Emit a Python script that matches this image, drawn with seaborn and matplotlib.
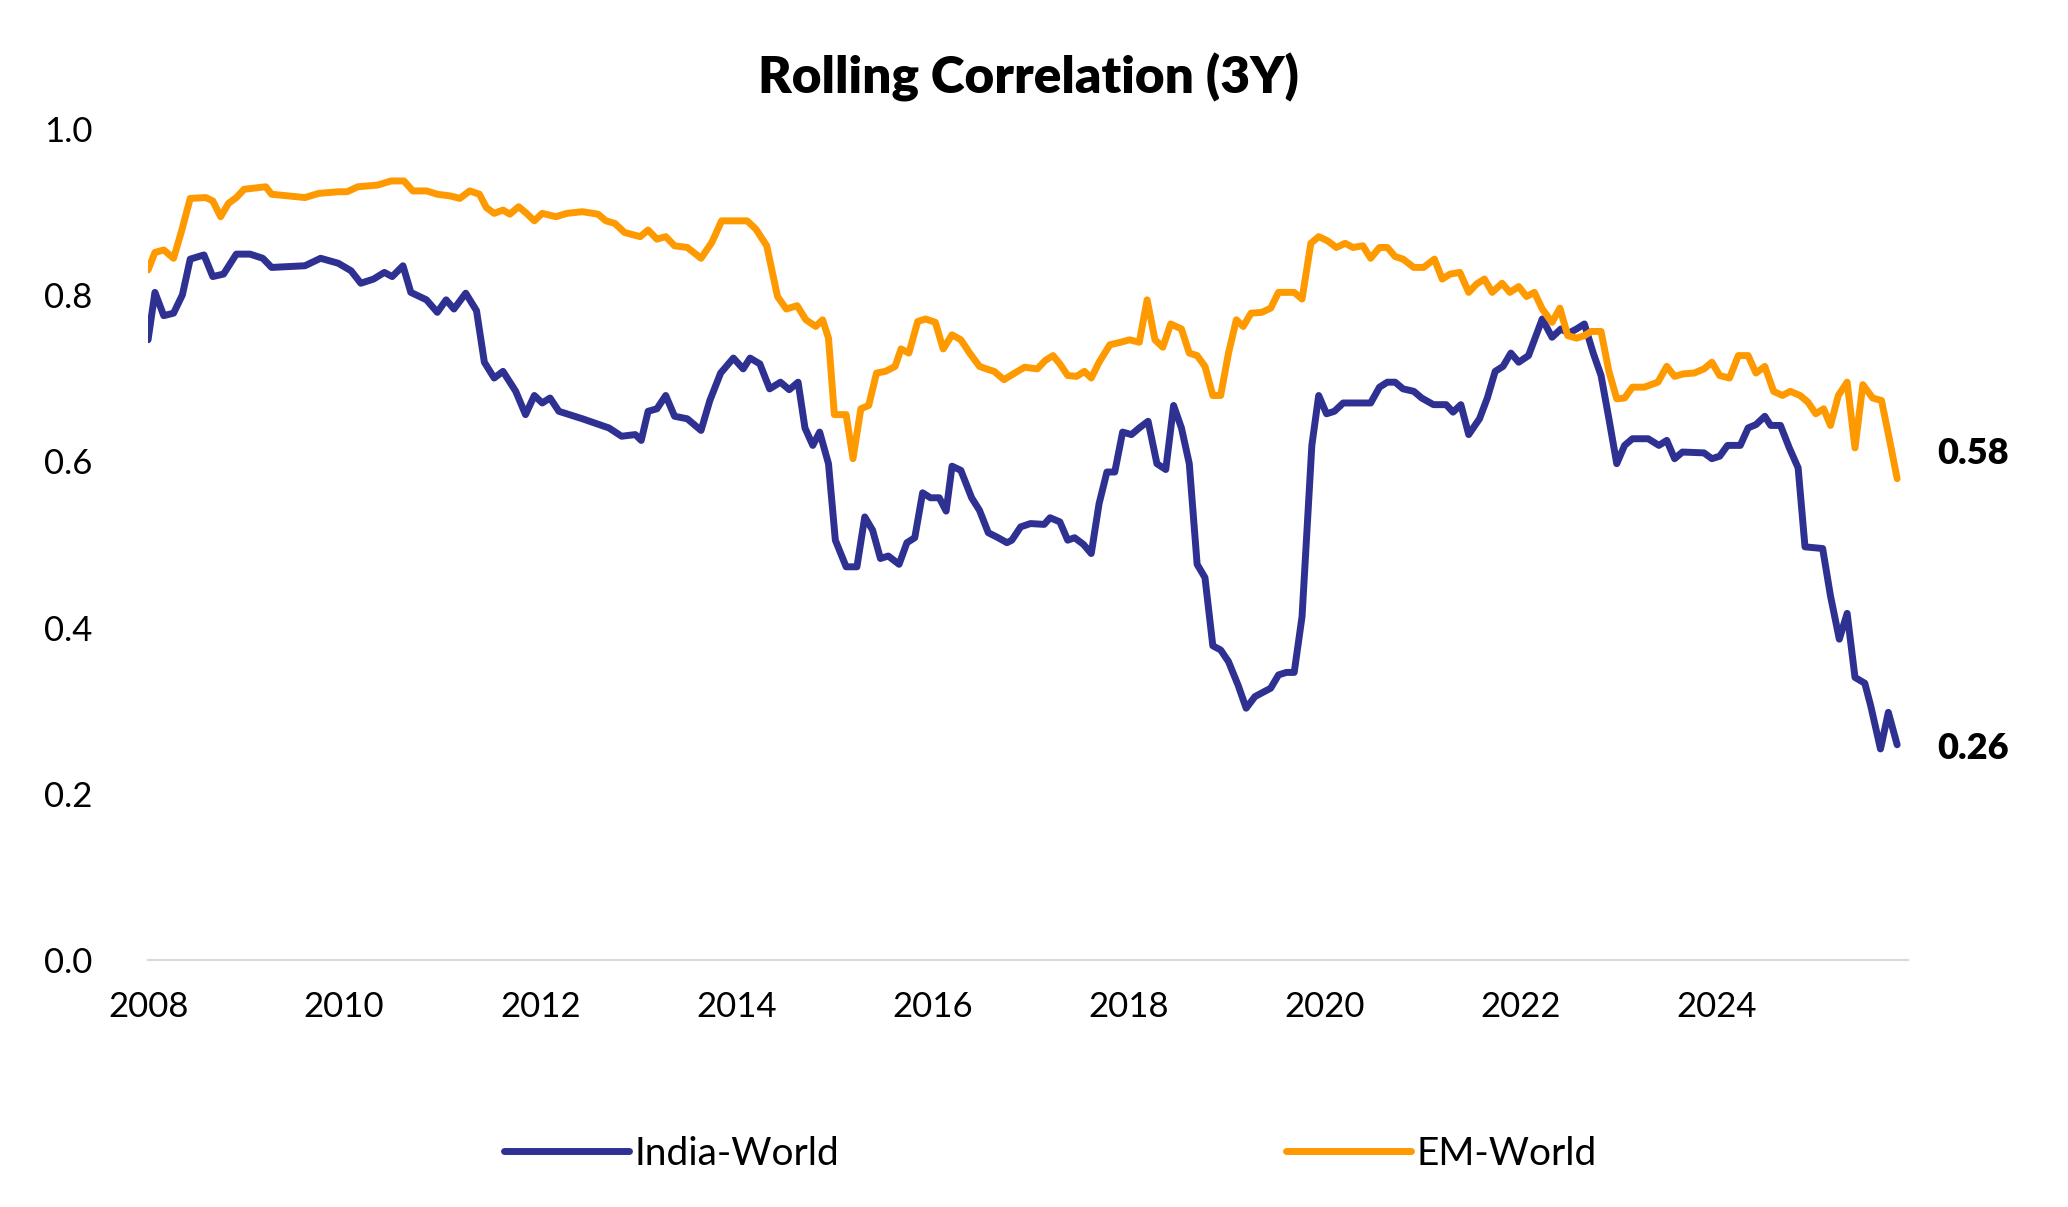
import matplotlib
matplotlib.use("Agg")
import matplotlib.pyplot as plt
import seaborn as sns
import pandas as pd

india_t = [2008.00,2008.07,2008.16,2008.26,2008.35,2008.43,2008.57,2008.66,2008.77,2008.90,2009.04,2009.17,2009.26,2009.60,2009.76,2009.94,2010.07,2010.17,2010.30,2010.41,2010.49,2010.60,2010.68,2010.84,2010.95,2011.04,2011.12,2011.24,2011.35,2011.43,2011.53,2011.62,2011.75,2011.85,2011.94,2012.02,2012.10,2012.19,2012.43,2012.70,2012.83,2012.97,2013.03,2013.10,2013.19,2013.28,2013.37,2013.50,2013.64,2013.73,2013.84,2013.97,2014.07,2014.14,2014.24,2014.34,2014.45,2014.54,2014.63,2014.70,2014.78,2014.85,2014.94,2015.01,2015.12,2015.23,2015.31,2015.39,2015.47,2015.55,2015.66,2015.74,2015.82,2015.90,2015.98,2016.07,2016.14,2016.20,2016.29,2016.40,2016.48,2016.57,2016.67,2016.76,2016.81,2016.90,2017.00,2017.14,2017.20,2017.30,2017.38,2017.45,2017.54,2017.62,2017.70,2017.78,2017.86,2017.94,2018.03,2018.11,2018.20,2018.29,2018.38,2018.46,2018.54,2018.62,2018.70,2018.78,2018.86,2018.94,2019.02,2019.12,2019.20,2019.29,2019.37,2019.45,2019.53,2019.61,2019.69,2019.77,2019.87,2019.94,2020.02,2020.10,2020.19,2020.37,2020.47,2020.56,2020.64,2020.72,2020.80,2020.91,2020.99,2021.11,2021.24,2021.31,2021.39,2021.47,2021.58,2021.66,2021.74,2021.82,2021.90,2021.98,2022.08,2022.16,2022.22,2022.32,2022.41,2022.49,2022.57,2022.65,2022.74,2022.82,2022.90,2022.98,2023.06,2023.14,2023.30,2023.41,2023.49,2023.57,2023.65,2023.87,2023.95,2024.03,2024.11,2024.24,2024.32,2024.40,2024.49,2024.55,2024.65,2024.74,2024.83,2024.90,2025.08,2025.16,2025.25,2025.33,2025.41,2025.51,2025.57,2025.67,2025.75,2025.84]
india_v = [0.746,0.803,0.775,0.778,0.80,0.843,0.848,0.822,0.825,0.849,0.849,0.844,0.833,0.835,0.844,0.838,0.829,0.814,0.819,0.827,0.822,0.835,0.803,0.794,0.779,0.794,0.783,0.802,0.781,0.719,0.70,0.708,0.684,0.656,0.679,0.67,0.676,0.66,0.651,0.64,0.63,0.632,0.625,0.66,0.663,0.679,0.654,0.651,0.637,0.673,0.706,0.724,0.711,0.724,0.717,0.687,0.695,0.686,0.695,0.64,0.619,0.635,0.597,0.505,0.473,0.473,0.533,0.517,0.483,0.486,0.476,0.502,0.508,0.562,0.556,0.556,0.54,0.594,0.589,0.556,0.541,0.514,0.508,0.502,0.505,0.521,0.525,0.524,0.532,0.527,0.505,0.508,0.50,0.489,0.549,0.587,0.587,0.635,0.632,0.64,0.648,0.597,0.59,0.667,0.64,0.597,0.476,0.46,0.378,0.373,0.359,0.33,0.303,0.317,0.322,0.327,0.343,0.346,0.346,0.413,0.619,0.679,0.657,0.66,0.67,0.67,0.67,0.689,0.695,0.695,0.687,0.684,0.676,0.668,0.668,0.659,0.668,0.632,0.651,0.676,0.708,0.714,0.73,0.719,0.727,0.752,0.771,0.749,0.759,0.754,0.759,0.765,0.73,0.703,0.651,0.597,0.619,0.627,0.627,0.619,0.625,0.603,0.611,0.61,0.603,0.606,0.619,0.619,0.64,0.644,0.654,0.643,0.643,0.616,0.592,0.497,0.495,0.438,0.386,0.417,0.34,0.333,0.306,0.254,0.298,0.259]

em_t = [2008.00,2008.07,2008.16,2008.26,2008.34,2008.43,2008.59,2008.66,2008.74,2008.82,2008.90,2008.98,2009.13,2009.20,2009.26,2009.60,2009.74,2009.94,2010.03,2010.14,2010.34,2010.48,2010.61,2010.70,2010.84,2010.95,2011.08,2011.18,2011.28,2011.38,2011.45,2011.53,2011.62,2011.69,2011.78,2011.86,2011.94,2012.02,2012.16,2012.27,2012.43,2012.59,2012.67,2012.76,2012.86,2013.02,2013.10,2013.19,2013.28,2013.37,2013.50,2013.64,2013.75,2013.85,2013.93,2014.11,2014.20,2014.31,2014.42,2014.51,2014.62,2014.71,2014.81,2014.88,2014.94,2015.00,2015.12,2015.19,2015.27,2015.35,2015.43,2015.52,2015.62,2015.68,2015.76,2015.85,2015.93,2016.03,2016.11,2016.20,2016.29,2016.38,2016.48,2016.55,2016.63,2016.73,2016.84,2016.94,2017.07,2017.15,2017.23,2017.30,2017.38,2017.47,2017.55,2017.62,2017.70,2017.81,2017.92,2018.01,2018.11,2018.19,2018.27,2018.35,2018.43,2018.54,2018.62,2018.70,2018.78,2018.86,2018.94,2019.02,2019.10,2019.17,2019.25,2019.36,2019.45,2019.53,2019.69,2019.77,2019.86,2019.94,2020.03,2020.12,2020.21,2020.29,2020.39,2020.47,2020.56,2020.64,2020.72,2020.80,2020.91,2021.01,2021.12,2021.20,2021.28,2021.38,2021.47,2021.55,2021.63,2021.71,2021.81,2021.89,2021.98,2022.06,2022.14,2022.22,2022.32,2022.40,2022.48,2022.57,2022.65,2022.72,2022.82,2022.90,2022.98,2023.06,2023.14,2023.26,2023.40,2023.49,2023.57,2023.66,2023.77,2023.87,2023.95,2024.03,2024.13,2024.22,2024.32,2024.40,2024.49,2024.58,2024.67,2024.75,2024.85,2024.93,2025.01,2025.09,2025.16,2025.24,2025.33,2025.41,2025.49,2025.59,2025.68,2025.76,2025.84]
em_v = [0.83,0.851,0.854,0.844,0.876,0.916,0.917,0.913,0.894,0.91,0.917,0.927,0.929,0.93,0.921,0.917,0.922,0.924,0.924,0.93,0.932,0.937,0.937,0.925,0.925,0.921,0.919,0.916,0.925,0.921,0.905,0.898,0.902,0.897,0.906,0.898,0.889,0.898,0.894,0.898,0.9,0.897,0.889,0.886,0.875,0.87,0.878,0.867,0.87,0.859,0.857,0.844,0.863,0.889,0.889,0.889,0.879,0.859,0.798,0.783,0.787,0.77,0.762,0.77,0.748,0.656,0.656,0.603,0.663,0.667,0.706,0.708,0.714,0.735,0.73,0.768,0.771,0.767,0.735,0.752,0.746,0.73,0.714,0.711,0.708,0.698,0.706,0.713,0.711,0.721,0.727,0.717,0.703,0.702,0.708,0.70,0.719,0.74,0.743,0.746,0.743,0.794,0.746,0.737,0.765,0.759,0.73,0.727,0.714,0.679,0.679,0.73,0.77,0.762,0.778,0.779,0.784,0.803,0.803,0.795,0.862,0.87,0.865,0.857,0.862,0.857,0.859,0.844,0.857,0.857,0.846,0.843,0.833,0.833,0.843,0.819,0.825,0.827,0.803,0.813,0.819,0.803,0.814,0.803,0.81,0.798,0.803,0.783,0.767,0.784,0.751,0.748,0.751,0.756,0.756,0.708,0.675,0.676,0.689,0.689,0.695,0.714,0.702,0.705,0.706,0.711,0.719,0.703,0.70,0.727,0.727,0.706,0.714,0.684,0.679,0.684,0.679,0.671,0.657,0.663,0.643,0.679,0.695,0.616,0.692,0.676,0.673,0.627,0.579]

series_names = ["India-World", "EM-World"]
colors = ["#2E3192", "#FF9900"]
end_labels = ["0.26", "0.58"]

df = pd.concat([
    pd.DataFrame({"t": india_t, "v": india_v, "s": series_names[0]}),
    pd.DataFrame({"t": em_t, "v": em_v, "s": series_names[1]}),
])

sns.set_theme(style="white")
plt.rcParams["font.family"] = ["Lato", "DejaVu Sans"]
plt.rcParams["text.color"] = "black"

fig = plt.figure(figsize=(20.68, 12.07), dpi=100)
ax = fig.add_axes([0.0716, 0.2045, 0.851, 0.689])
sns.lineplot(data=df, x="t", y="v", hue="s", palette=colors, linewidth=5, ax=ax, legend=False)

ax.set_xlim(2008, 2025.95)
ax.set_ylim(0, 1.0)
ax.set_xticks(range(2008, 2025, 2))
ax.set_xticklabels([str(y) for y in range(2008, 2025, 2)], fontsize=25, color="black")
ax.set_yticks([0, 0.2, 0.4, 0.6, 0.8, 1.0])
ax.set_yticklabels(["0.0", "0.2", "0.4", "0.6", "0.8", "1.0"], fontsize=25, color="black")
ax.tick_params(axis="x", pad=22, length=0)
ax.tick_params(axis="y", pad=40, length=0)
for s in ["top", "right", "left"]:
    ax.spines[s].set_visible(False)
ax.spines["bottom"].set_color("#D9D9D9")
ax.spines["bottom"].set_linewidth(1.5)
ax.set_xlabel("")
ax.set_ylabel("")

ax.set_title("Rolling Correlation (3Y)", fontsize=37, fontweight="heavy", pad=25, color="black")

ax.text(2026.25, india_v[-1] - 0.005, end_labels[0], fontsize=26, fontweight="heavy", va="center", ha="left", clip_on=False)
ax.text(2026.25, em_v[-1] + 0.03, end_labels[1], fontsize=26, fontweight="heavy", va="center", ha="left", clip_on=False)

from matplotlib.lines import Line2D
handles = [Line2D([0], [0], color=c, lw=5) for c in colors]
fig.legend(handles, series_names, loc="center", bbox_to_anchor=(0.508, 0.044), ncol=2,
           frameon=False, fontsize=28, columnspacing=11.5, handlelength=3.2, handletextpad=0.15)

fig.savefig("out.png", dpi=100)
